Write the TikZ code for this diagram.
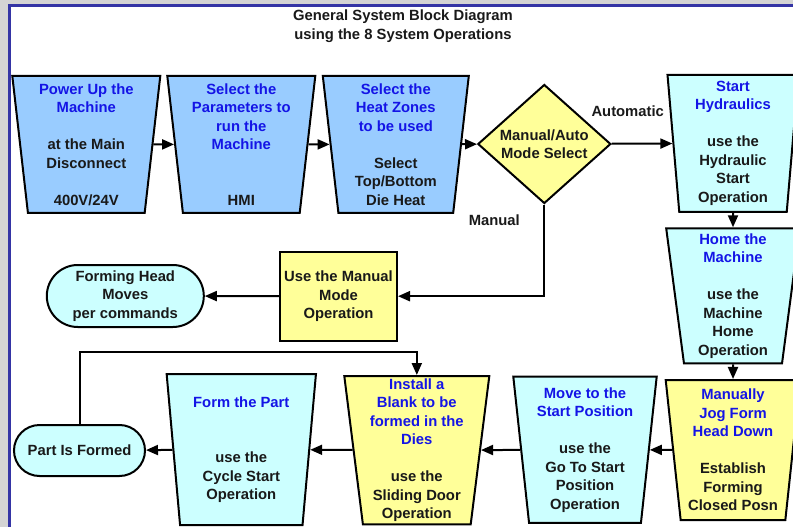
\documentclass[tikz,border=0pt]{standalone}
\usepackage{fontspec}
\setmainfont{Liberation Sans}
\usetikzlibrary{shapes.geometric,arrows.meta}
\definecolor{opblue}{RGB}{153,204,255}
\definecolor{opcyan}{RGB}{204,255,255}
\definecolor{opyellow}{RGB}{255,255,153}
\definecolor{optext}{RGB}{20,20,230}
\definecolor{framegray}{RGB}{212,212,212}
\definecolor{frameblue}{RGB}{52,52,165}
\newcommand{\opline}[1]{\textcolor{optext}{#1}}

\begin{document}
\begin{tikzpicture}[x=1pt,y=-1pt,
  every node/.style={font=\fontsize{14.8}{18.5}\selectfont\bfseries, align=center, text=black!90},
  opbox/.style={trapezium, shape border rotate=180, trapezium stretches body,
    trapezium angle=82.7, draw=black, line width=2pt, inner sep=0pt,
    minimum width=148pt, minimum height=137pt},
  endbox/.style={draw=black, line width=2pt, fill=opcyan, inner sep=0pt},
  arr/.style={-{Triangle[length=12pt,width=10pt]}, line width=2pt}]

  \useasboundingbox (0,0) rectangle (793,527);
  \clip (0,0) rectangle (793,527);
  \fill[framegray] (0,0) rectangle (793,527);
  \draw[frameblue, line width=3pt, fill=white] (9.5,6) rectangle (830,560);

  \node (title) at (403,26) {General System Block Diagram\\using the 8 System Operations};

  \node[opbox, fill=opblue] (power) at (86.3,144.4)
    {\opline{Power Up the}\\\opline{Machine}\\~\\at the Main\\Disconnect\\~\\400V/24V};
  \node[opbox, fill=opblue] (param) at (241.3,144.4)
    {\opline{Select the}\\\opline{Parameters to}\\\opline{run the}\\\opline{Machine}\\~\\~\\HMI};
  \node[opbox, fill=opblue, minimum width=146pt] (zones) at (395.8,144.4)
    {\opline{Select the}\\\opline{Heat Zones}\\\opline{to be used}\\~\\Select\\Top/Bottom\\Die Heat};
  \node[diamond, draw=black, line width=2pt, fill=opyellow, inner sep=0pt, aspect=1.12,
    minimum width=133pt, minimum height=119pt] (mode) at (544.3,144) {Manual/Auto\\Mode Select};
  \node[opbox, fill=opcyan, minimum width=131pt, trapezium angle=84.6] (hydr) at (733,143.3)
    {\opline{Start}\\\opline{Hydraulics}\\~\\use the\\Hydraulic\\Start\\Operation};
  \node[opbox, fill=opcyan, minimum width=133.6pt, minimum height=135pt, trapezium angle=81.9] (home) at (733,295.8)
    {\opline{Home the}\\\opline{Machine}\\~\\use the\\Machine\\Home\\Operation};
  \node[opbox, fill=opyellow, minimum width=134.6pt, minimum height=140pt, trapezium angle=83] (jog) at (733,450)
    {\opline{Manually}\\\opline{Jog Form}\\\opline{Head Down}\\~\\Establish\\Forming\\Closed Posn};
  \node[opbox, fill=opcyan, minimum width=143.4pt, minimum height=146.3pt, trapezium angle=82.8] (move) at (585,449.8)
    {\opline{Move to the}\\\opline{Start Position}\\~\\use the\\Go To Start\\Position\\Operation};
  \node[opbox, fill=opyellow, minimum width=145pt, minimum height=148.3pt, trapezium angle=82.6] (install) at (416.8,450.2)
    {\opline{Install a}\\\opline{Blank to be}\\\opline{formed in the}\\\opline{Dies}\\~\\use the\\Sliding Door\\Operation};
  \node[opbox, fill=opcyan, minimum width=149.3pt, minimum height=151pt, trapezium angle=82.8] (form) at (241.3,449.5)
    {\opline{Form the Part}\\~\\~\\use the\\Cycle Start\\Operation};

  \node[draw=black, line width=2pt, fill=opyellow, inner sep=0pt,
    minimum width=117pt, minimum height=89pt] (manop) at (338.5,296.2) {Use the Manual\\Mode\\Operation};
  \node[endbox, rounded corners=31pt, minimum width=157pt, minimum height=62pt] (head) at (125.3,296)
    {Forming Head\\Moves\\per commands};
  \node[endbox, rounded corners=25.5pt, minimum width=131pt, minimum height=51pt] (part) at (79.5,450.5)
    {Part Is Formed};

  \node (autolbl) at (627.7,111) {Automatic};
  \node (manlbl) at (494.3,220) {Manual};

  \draw[arr] (power) -- (param);
  \draw[arr] (param) -- (zones);
  \draw[arr] (zones) -- (mode);
  \draw[arr] (mode) -- (hydr);
  \draw[arr] (mode.south) |- (manop.east);
  \draw[arr] (manop) -- (head);
  \draw[arr] (hydr) -- (home);
  \draw[arr] (home) -- (jog);
  \draw[arr] (jog) -- (move);
  \draw[arr] (move) -- (install);
  \draw[arr] (install) -- (form);
  \draw[arr] (form) -- (part);
  \draw[arr] (part.north) -- ++(0,-72) -| (install.north);

\end{tikzpicture}
\end{document}
